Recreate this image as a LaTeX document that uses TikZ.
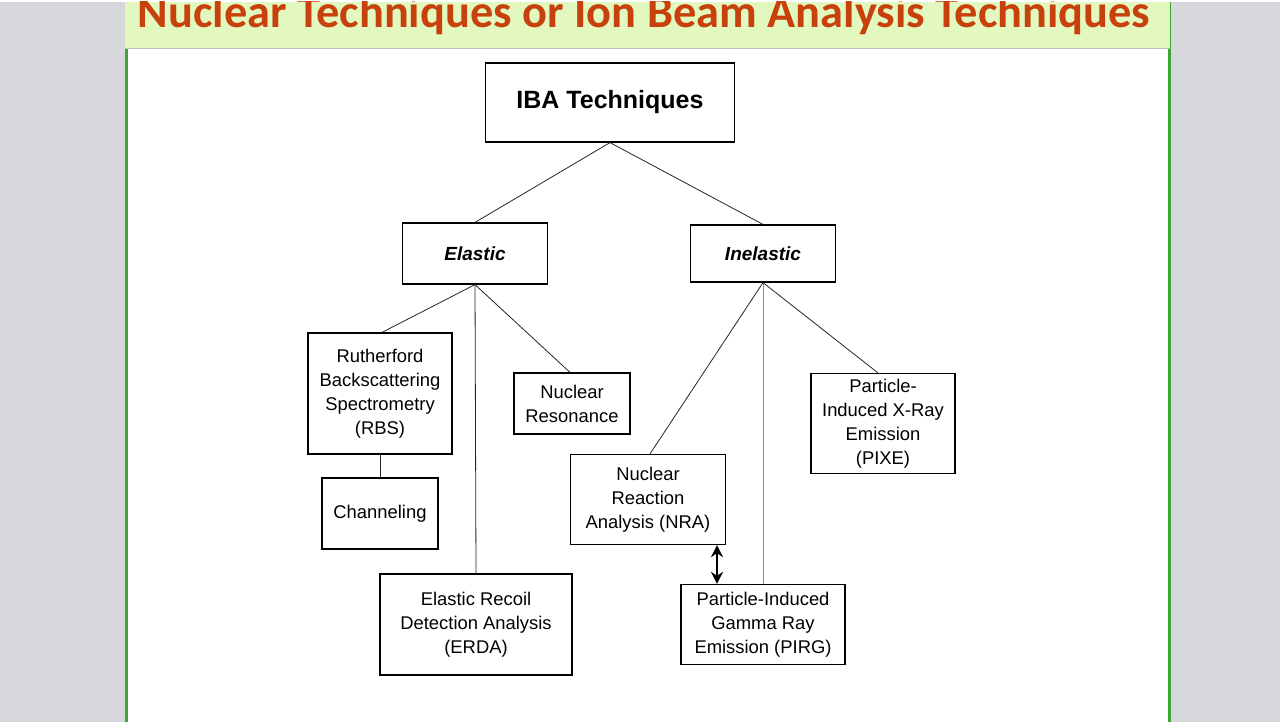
\documentclass[tikz,border=0pt]{standalone}
\usepackage{fontspec}
\setmainfont{Liberation Sans}
\newfontfamily\titlefont{Carlito}
\usetikzlibrary{arrows.meta}
\definecolor{slidegray}{HTML}{D6D8DC}
\definecolor{barfill}{HTML}{E3F8BE}
\definecolor{titlered}{HTML}{C8400C}
\definecolor{edgegreen}{HTML}{3FA535}
\tikzset{
  box/.style   = { draw, semithick, align=center, inner sep=2pt,
                   font=\fontsize{9.2}{12}\selectfont },
  link/.style  = { black!85 },
  glink/.style = { black!45 },
  both/.style  = { line width=1.3pt, {Stealth[length=6pt,width=6pt]}-{Stealth[length=6pt,width=6pt]} }
}
\begin{document}
\begin{tikzpicture}[x=0.5pt,y=-0.5pt]
  % Slide background
  \fill[slidegray] (0,0) rectangle (1280,720);
  \fill[white] (125,0) rectangle (1170,720);
  \draw[edgegreen, line width=1.5pt] (126,0) -- (126,720) (1169,0) -- (1169,720);
  \begin{scope}
    \clip (0,0) rectangle (1280,720);
    \fill[barfill] (125,0) rectangle (1170,47);
    \draw[black!25] (125,47) -- (1170,47);
    \node[anchor=base, text=titlered, font=\titlefont\bfseries\fontsize{23.2}{24}\selectfont]
      (title) at (644,26) {Nuclear Techniques or Ion Beam Analysis Techniques};
  \end{scope}
  \useasboundingbox (0,0) rectangle (1280,720);
  % Boxes
  \node[box, minimum width=124.5pt, minimum height=39.5pt, font=\bfseries\fontsize{12.5}{14}\selectfont] (iba) at (610,101) {IBA Techniques};
  \node[box, minimum width=72.5pt, minimum height=30.5pt, font=\bfseries\itshape\fontsize{9.5}{12}\selectfont] (el) at (475,252) {Elastic};
  \node[box, minimum width=72.5pt, minimum height=28.5pt, font=\bfseries\itshape\fontsize{9.5}{12}\selectfont] (inel) at (763,252) {Inelastic};
  \node[box, minimum width=72pt, minimum height=60.5pt] (rbs) at (380,392) {Rutherford\\Backscattering\\Spectrometry\\(RBS)};
  \node[box, minimum width=58pt, minimum height=35.5pt] (chan) at (380,512) {Channeling};
  \node[box, minimum width=58pt, minimum height=30.5pt] (nr) at (572,402) {Nuclear\\Resonance};
  \node[box, minimum width=96pt, minimum height=50.5pt] (erda) at (476,623) {Elastic Recoil\\Detection Analysis\\(ERDA)};
  \node[box, minimum width=77.5pt, minimum height=45pt] (nra) at (648,498) {Nuclear\\Reaction\\Analysis (NRA)};
  \node[box, minimum width=82pt, minimum height=40pt] (pirg) at (763,623) {Particle-Induced\\Gamma Ray\\Emission (PIRG)};
  \node[box, minimum width=72pt, minimum height=50pt] (pixe) at (883,422) {Particle-\\Induced X-Ray\\Emission\\(PIXE)};
  % Connectors
  \draw[link] (iba.south) -- (el.north);
  \draw[link] (iba.south) -- (inel.north);
  \draw[link] (el.south) -- ([xshift=1pt]rbs.north);
  \draw[link] (el.south) -- (erda.north);
  \draw[link] (el.south) -- ([xshift=-1pt]nr.north);
  \draw[link] (rbs.south) -- (chan.north);
  \draw[link] (inel.south) -- ([xshift=1pt]nra.north);
  \draw[glink] (inel.south) -- (pirg.north);
  \draw[link] (inel.south) -- ([xshift=-2.5pt]pixe.north);
  \draw[both] ([xshift=-23pt]pirg.north) -- ([xshift=-23pt]pirg.north |- nra.south);
\end{tikzpicture}
\end{document}
